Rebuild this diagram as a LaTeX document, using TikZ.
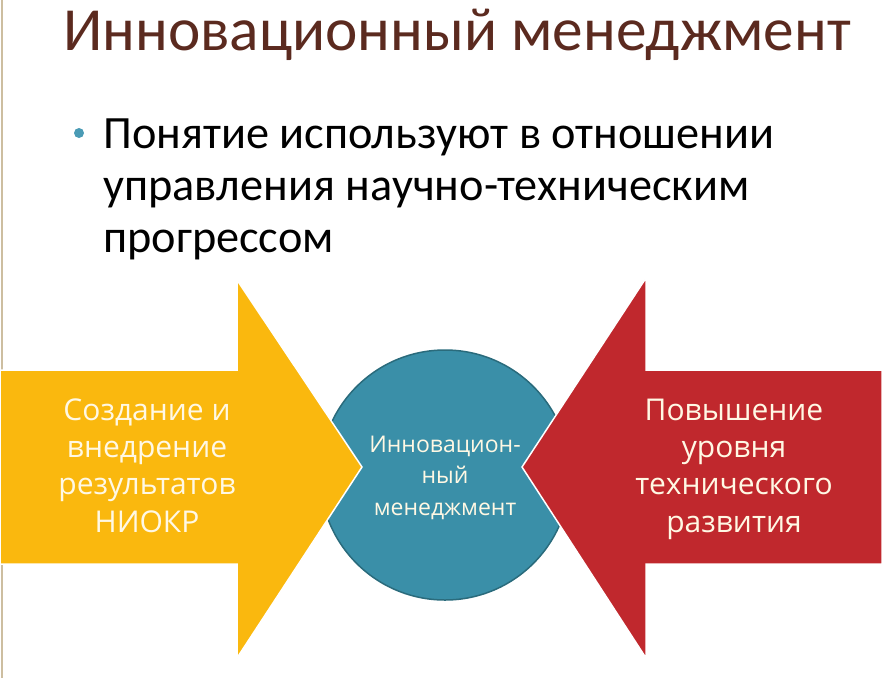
\documentclass[tikz,border=0pt]{standalone}
\usepackage{fontspec}
\setmainfont{Carlito}
\newfontfamily\shapefont{Open Sans}
\usetikzlibrary{shapes}
\definecolor{titlebrown}{RGB}{91,42,31}
\definecolor{bulletteal}{RGB}{74,155,181}
\definecolor{arrowyellow}{RGB}{250,184,14}
\definecolor{arrowred}{RGB}{192,40,45}
\definecolor{circleteal}{RGB}{58,143,168}
\definecolor{circleedge}{RGB}{42,107,124}
\definecolor{cream}{RGB}{255,248,228}
\definecolor{slideedge}{RGB}{205,190,160}
\newcommand{\fillYellow}{\draw[fill=arrowyellow, draw=white, line width=1.5pt]}
\newcommand{\fillRed}{\draw[fill=arrowred, draw=white, line width=1.5pt]}
\newcommand{\fillCircle}{\draw[fill=circleteal, draw=circleedge, line width=1.5pt]}

\begin{document}
\begin{tikzpicture}[x=1pt,y=-1pt]
  \tikzset{shapetext/.style={text=cream, align=center, inner sep=0pt, anchor=base},
           bodytext/.style={anchor=base west, inner sep=0pt, font=\fontsize{46.3}{52}\selectfont}}
  \useasboundingbox (0,0) rectangle (891,678);

  % thin edge of the slide on the left
  \draw[slideedge, line width=2pt] (1.5,0) -- (1.5,678);

  % heading and the one bullet
  \node (title) [anchor=base west, inner sep=0pt, text=titlebrown,
        font=\fontsize{61.3}{62}\selectfont] at (63,50) {Инновационный менеджмент};
  \fill[bulletteal] (79,133) circle (5);
  \node (lineA) [bodytext] at (103,148) {Понятие используют в отношении};
  \node (lineB) [bodytext] at (103,200) {управления научно-техническим};
  \node (lineC) [bodytext] at (103,252) {прогрессом};

  % the circle sits behind both arrows
  \fillCircle (445,475) circle (125);

  %% yellow arrow pointing right
  \fillYellow (0,370) -- (237,370) -- (237,280) -- (362,467)
              -- (237,658) -- (237,564) -- (0,564) -- cycle;

  %% red arrow pointing left
  \fillRed (882,370) -- (646,370) -- (646,278) -- (522,467)
           -- (646,658) -- (646,564) -- (882,564) -- cycle;

  % texts on the shapes (base = last line)
  \node (create) [shapetext, font=\shapefont\fontsize{30}{37.3}\selectfont] at (147,532)
        {Создание и\\внедрение\\результатов\\НИОКР};
  \node (raise) [shapetext, font=\shapefont\fontsize{30}{37.3}\selectfont] at (734,532)
        {Повышение\\уровня\\технического\\развития};
  \node (core) [shapetext, font=\shapefont\fontsize{23}{31.5}\selectfont] at (445,515)
        {Инновацион-\\ный\\менеджмент};
\end{tikzpicture}
\end{document}
